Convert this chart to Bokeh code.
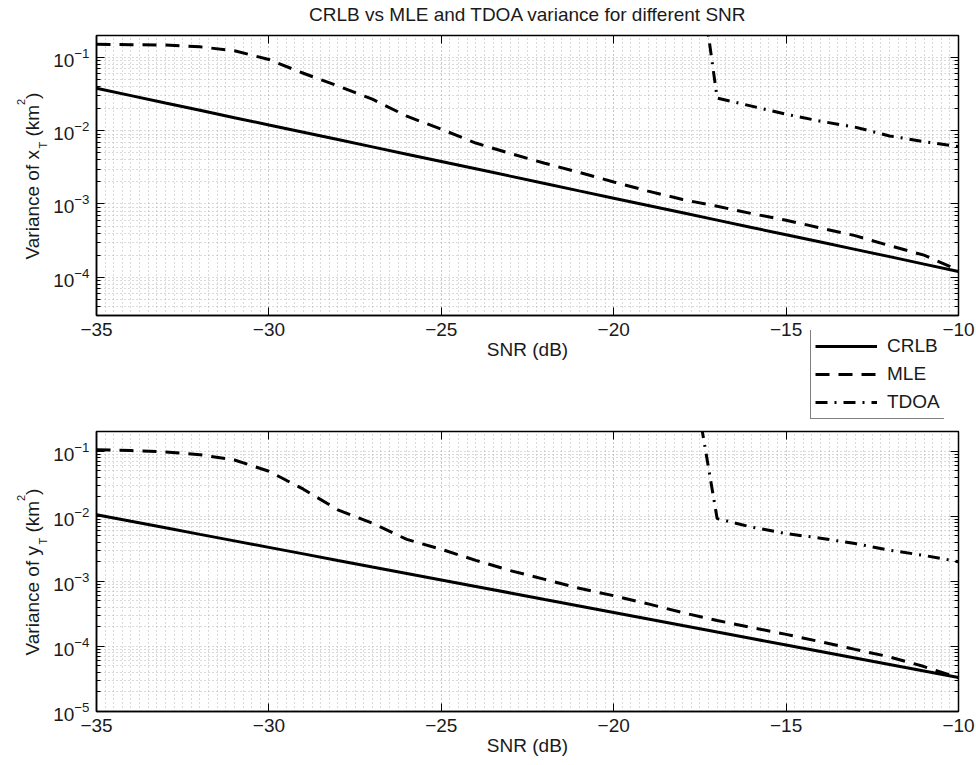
from bokeh.plotting import figure
from bokeh.models import (Range1d, FixedTicker, LogAxis, LinearAxis, Label,
                          Legend, LegendItem, LogTickFormatter,
                          CustomJSTickFormatter)
from bokeh.layouts import column, row
from bokeh.embed import file_html
from bokeh.resources import INLINE

# ---------------- data ----------------
snr = [-35, -34, -33, -32, -31, -30, -29, -28, -27, -26, -25, -24, -23,
       -22, -21, -20, -19, -18, -17, -16, -15, -14, -13, -12, -11, -10]

crlb_x = [0.038, 0.0302, 0.024, 0.0191, 0.0151, 0.012, 0.00954, 0.00758,
          0.00602, 0.00478, 0.0038, 0.00302, 0.0024, 0.00191, 0.00151, 0.0012,
          0.000954, 0.000758, 0.000602, 0.000478, 0.00038, 0.000302, 0.00024,
          0.000191, 0.000151, 0.00012]
mle_x = [0.152, 0.150, 0.148, 0.140, 0.124, 0.094, 0.061, 0.041, 0.027,
         0.0158, 0.0105, 0.0068, 0.0049, 0.0036, 0.0027, 0.0020, 0.0015,
         0.00115, 0.00093, 0.00074, 0.00060, 0.00047, 0.00037, 0.00027,
         0.00020, 0.000125]

snr_tdoa = [-18, -17, -16, -15, -14, -13, -12, -11, -10]
tdoa_x = [70.0, 0.028, 0.0217, 0.0168, 0.0135, 0.0112, 0.0085, 0.0071, 0.0061]

crlb_y = [0.0105, 0.00834, 0.00663, 0.00526, 0.00418, 0.00332, 0.00264,
          0.00209, 0.00166, 0.00132, 0.00105, 0.000834, 0.000663, 0.000526,
          0.000418, 0.000332, 0.000264, 0.000209, 0.000166, 0.000132,
          0.000105, 0.0000834, 0.0000663, 0.0000526, 0.0000418, 0.0000332]
mle_y = [0.105, 0.102, 0.097, 0.088, 0.073, 0.049, 0.026, 0.0125, 0.0078,
         0.0044, 0.0031, 0.0021, 0.00146, 0.00107, 0.00078, 0.00060, 0.00045,
         0.00033, 0.00025, 0.000195, 0.000153, 0.000118, 0.000090, 0.000069,
         0.000049, 0.000033]
tdoa_y = [12.0, 0.0092, 0.0068, 0.0054, 0.0046, 0.0038, 0.0030, 0.0025, 0.0020]

x_ticks = [-35, -30, -25, -20, -15, -10]
x_tick_labels = ["\u221235", "\u221230", "\u221225", "\u221220", "\u221215", "\u221210"]
y_ticks_top = [1e-4, 1e-3, 1e-2, 1e-1]
y_ticks_bottom = [1e-5, 1e-4, 1e-3, 1e-2, 1e-1]
y_range_top = (3e-5, 0.2)
y_range_bottom = (1e-5, 0.2)

title_text = "CRLB vs MLE and TDOA variance for different SNR"
series_names = ["CRLB", "MLE", "TDOA"]

FONT = "Liberation Sans"
TXT = "#1a1a1a"
FS = "19px"
GRID = "#b4b4b4"
DASH_MLE = "14 9"
DASH_TDOA = "12 7 2 7"
LW = 3

LEFT_W = 50          # width of the strip holding the rotated y labels
PLOT_W = 976 - LEFT_W
BORDER_L = 95 - LEFT_W

x_minor = [x_ticks[0] + 0.25 * i for i in range(101)]
y_minor = [m * 10.0 ** e for e in range(-6, 0) for m in range(2, 10)]


def blank_fig(w, h, transparent=False):
    f = figure(width=w, height=h, x_range=Range1d(0, 1), y_range=Range1d(0, 1),
               output_backend="svg", toolbar_location=None,
               x_axis_location=None, y_axis_location=None,
               min_border=0, min_border_left=0, min_border_right=0,
               min_border_top=0, min_border_bottom=0,
               outline_line_color=None, background_fill_color="white",
               border_fill_color="white")
    if transparent:
        f.background_fill_alpha = 0
        f.border_fill_alpha = 0
    f.grid.visible = False
    return f


def make_panel(height, top, bottom, yr, yticks, crlb, mle, tdoa):
    p = figure(width=PLOT_W, height=height, x_range=Range1d(-35, -10),
               y_range=Range1d(*yr), y_axis_type="log",
               output_backend="svg", toolbar_location=None,
               min_border_left=BORDER_L, min_border_right=18,
               min_border_top=top, min_border_bottom=bottom,
               background_fill_color="white", border_fill_color="white",
               outline_line_color="black", outline_line_width=1.5)

    xt = FixedTicker(ticks=x_ticks, minor_ticks=x_minor)
    yt = FixedTicker(ticks=yticks, minor_ticks=y_minor)

    xa = p.below[0]
    xa.ticker = xt
    xa.major_label_overrides = {t: l for t, l in zip(x_ticks, x_tick_labels)}
    xa.major_tick_in = 8
    xa.major_tick_out = 0
    xa.minor_tick_in = 0
    xa.minor_tick_out = 0
    xa.axis_line_color = "black"
    xa.axis_line_width = 1.5
    xa.major_label_standoff = 7
    xa.major_label_text_font = FONT
    xa.major_label_text_font_size = FS
    xa.major_label_text_color = TXT
    xa.axis_label = "SNR (dB)"
    xa.axis_label_standoff = 0
    xa.axis_label_text_font = FONT
    xa.axis_label_text_font_size = FS
    xa.axis_label_text_font_style = "normal"
    xa.axis_label_text_color = TXT

    ya = p.left[0]
    ya.ticker = yt
    ya.formatter = LogTickFormatter()
    ya.major_tick_in = 8
    ya.major_tick_out = 0
    ya.minor_tick_in = 4
    ya.minor_tick_out = 0
    ya.axis_line_color = "black"
    ya.axis_line_width = 1.5
    ya.major_label_standoff = 7
    ya.major_label_text_font = FONT
    ya.major_label_text_font_size = FS
    ya.major_label_text_color = TXT

    ta = LinearAxis(ticker=xt, formatter=CustomJSTickFormatter(code="return ''"),
                    major_label_text_font_size="1px",
                    major_label_standoff=0, major_tick_in=8, major_tick_out=0,
                    minor_tick_in=0, minor_tick_out=0, axis_line_color=None)
    p.add_layout(ta, "above")
    ra = LogAxis(ticker=yt, formatter=CustomJSTickFormatter(code="return ''"),
                 major_label_text_font_size="1px",
                 major_label_standoff=0, major_tick_in=8, major_tick_out=0,
                 minor_tick_in=4, minor_tick_out=0, axis_line_color=None)
    p.add_layout(ra, "right")

    for g in (p.xgrid, p.ygrid):
        g.grid_line_color = GRID
        g.grid_line_dash = "1 3"
        g.minor_grid_line_color = GRID
        g.minor_grid_line_dash = "1 3"
    p.xgrid.ticker = xt
    p.ygrid.ticker = yt

    p.line(snr, crlb, line_color="black", line_width=LW)
    p.line(snr, mle, line_color="black", line_width=LW, line_dash=DASH_MLE)
    p.line(snr_tdoa, tdoa, line_color="black", line_width=LW,
           line_dash=DASH_TDOA)
    return p


# ---- title strip (frame aligned with the plots' frames) ----
title_fig = blank_fig(PLOT_W, 25)
title_fig.add_layout(Label(x=431.5, y=11, x_units="screen", y_units="screen",
                           text=title_text, text_align="center",
                           text_baseline="middle", text_font=FONT,
                           text_font_size=FS, text_color=TXT))

# ---- plots ----
p1 = make_panel(400, 10, 110, y_range_top, y_ticks_top, crlb_x, mle_x, tdoa_x)
p2 = make_panel(340, 6, 54, y_range_bottom, y_ticks_bottom, crlb_y, mle_y,
                tdoa_y)

# ---- legend box overlapping the top plot's axis area ----
leg_fig = blank_fig(BORDER_L + 136 + 18, 90, transparent=True)
leg_fig.margin = (-95, 0, 5, 808 - BORDER_L - LEFT_W)
# real series (they fall outside this strip's 0..1 ranges, so only the legend shows)
d1 = leg_fig.line(snr, crlb_x, line_color="black", line_width=LW)
d2 = leg_fig.line(snr, mle_x, line_color="black", line_width=LW,
                  line_dash=DASH_MLE)
d3 = leg_fig.line(snr_tdoa, tdoa_x, line_color="black", line_width=LW,
                  line_dash=DASH_TDOA)
lg = Legend(items=[LegendItem(label=series_names[0], renderers=[d1]),
                   LegendItem(label=series_names[1], renderers=[d2]),
                   LegendItem(label=series_names[2], renderers=[d3])],
            location=(1, 1), margin=0, padding=4, spacing=4,
            glyph_width=62, glyph_height=24, label_height=24,
            label_standoff=10,
            label_text_font=FONT, label_text_font_size=FS,
            label_text_color=TXT,
            border_line_color="black", border_line_width=1,
            background_fill_color="white", background_fill_alpha=1.0)
leg_fig.add_layout(lg)

# ---- rotated y-axis labels with sub/superscripts ----
left_fig = blank_fig(LEFT_W, 765)
MAIN_BX, SUB_BX, SUP_BX = 31.6, 42.0, 20.4
for letter, start in (("x", 506), ("y", 110)):
    pieces = [("Variance of " + letter, FS, MAIN_BX, 0.0),
              ("T", "11px", SUB_BX, 110.9),
              ("(km", FS, MAIN_BX, 122.9),
              ("2", "11px", SUP_BX, 154.5),
              (")", FS, MAIN_BX, 160.6)]
    for txt, fs, bx, off in pieces:
        left_fig.add_layout(Label(x=bx, y=start + off, x_units="screen",
                                  y_units="screen", text=txt, angle=90,
                                  angle_units="deg", text_align="left",
                                  text_baseline="middle", text_font=FONT,
                                  text_font_size=fs, text_color=TXT))

layout = row(left_fig, column(title_fig, p1, leg_fig, p2, spacing=0), spacing=0)
open("out.html", "w").write(file_html(layout, INLINE))
